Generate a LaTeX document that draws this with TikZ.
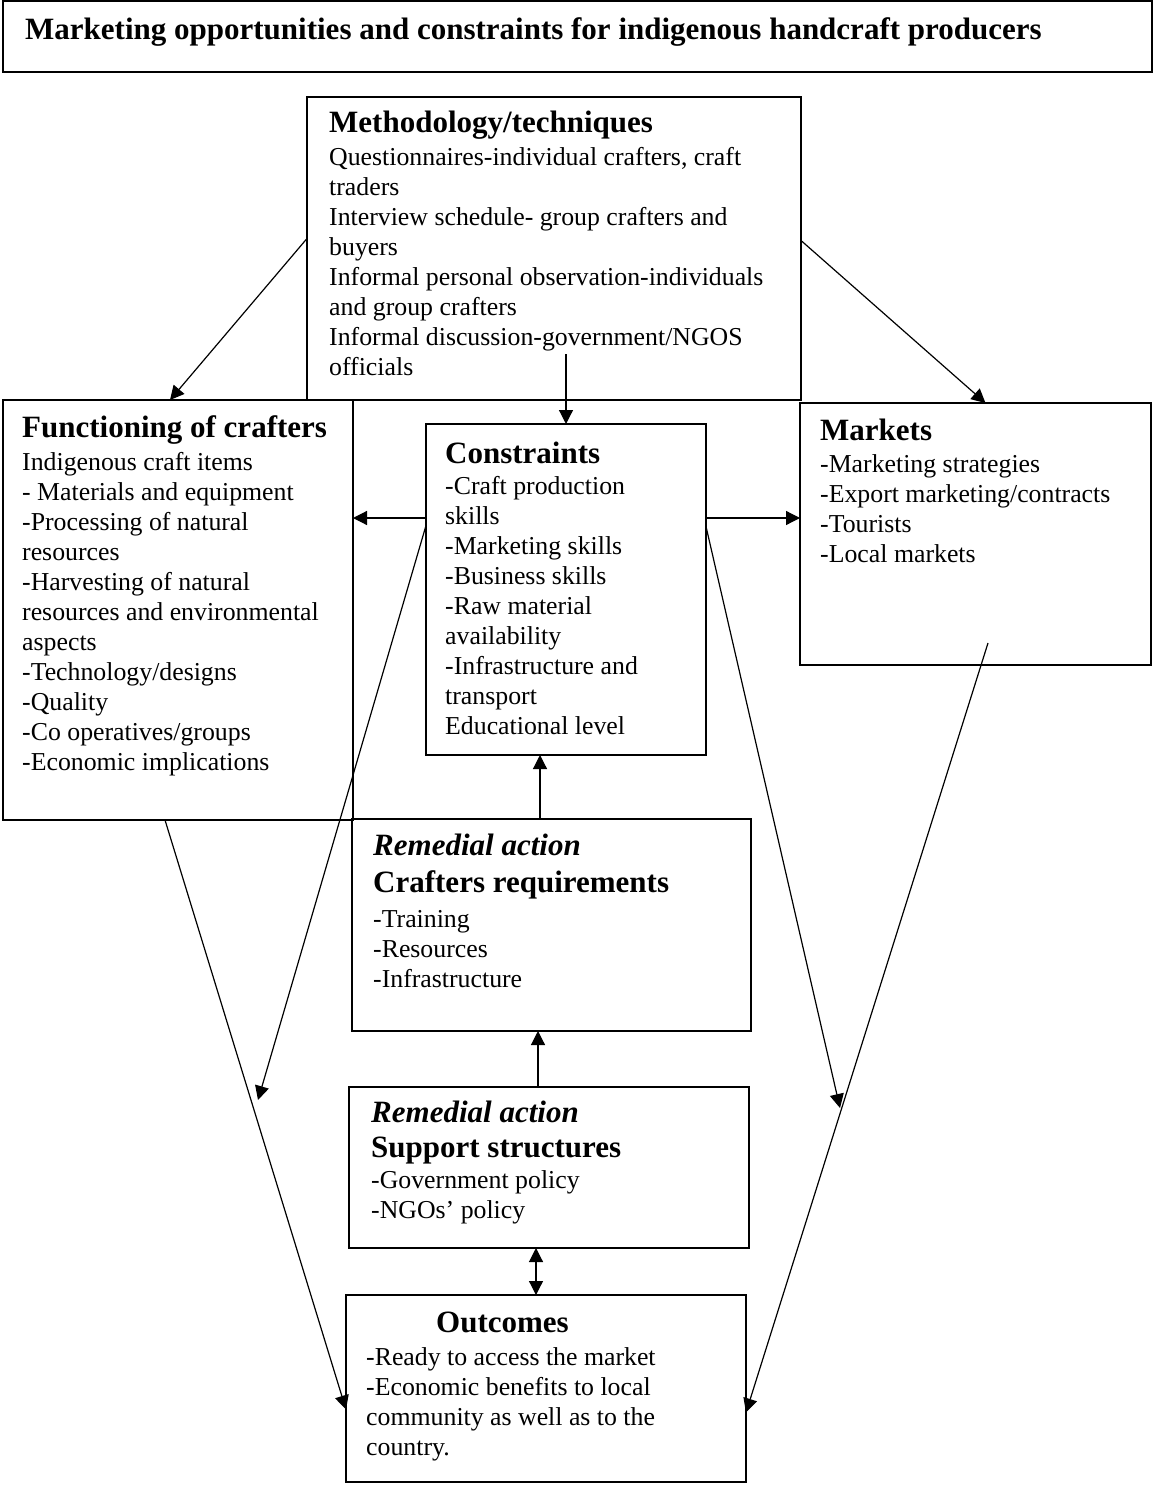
\documentclass[tikz,border=0pt]{standalone}
\usepackage{fontspec}
\setmainfont{Liberation Serif}
\usetikzlibrary{arrows.meta,calc}
\newcommand\ltxt[1]{\vtop{\baselineskip=30pt\lineskiplimit=-16000pt\lineskip=0pt\halign{##\hfil\cr#1\crcr}}}
\newcommand\hd[1]{{\fontsize{31}{31}\selectfont\bfseries #1}}
\newcommand\hi[1]{{\fontsize{31}{31}\selectfont\bfseries\itshape #1}}
\newcommand\gap[1]{\noalign{\vskip#1pt}}
\begin{document}
\begin{tikzpicture}[x=1pt,y=-1pt,
  box/.style={draw, line width=1.4pt, anchor=north west, inner sep=0pt, outer sep=0pt},
  txt/.style={anchor=base west, inner sep=0pt, font=\fontsize{25.8}{30}\selectfont},
  tip/.tip={Triangle[length=14pt,width=14pt]},
  arr/.style={line width=1.2pt, -tip},
  darr/.style={line width=1.2pt, tip-tip},
]
\useasboundingbox (0,0) rectangle (1153,1487);

% boxes
\node[box, minimum width=1149pt, minimum height=71pt] (title) at (3,1) {};
\node[box, minimum width=494pt, minimum height=303pt] (meth) at (307,97) {};
\node[box, minimum width=350pt, minimum height=420pt] (func) at (3,400) {};
\node[box, minimum width=280pt, minimum height=331pt] (cons) at (426,424) {};
\node[box, minimum width=351pt, minimum height=262pt] (mark) at (800,403) {};
\node[box, minimum width=399pt, minimum height=212pt] (creq) at (352,819) {};
\node[box, minimum width=400pt, minimum height=161pt] (supp) at (349,1087) {};
\node[box, minimum width=400pt, minimum height=187pt] (outc) at (346,1295) {};

% texts
\node[anchor=base west, inner sep=0pt, font=\fontsize{31}{31}\selectfont\bfseries] (titleT) at (25,40)
  {Marketing opportunities and constraints for indigenous handcraft producers};

\node[txt] (methT) at (329,133) {\ltxt{%
\hd{Methodology/techniques}\cr\gap{3}
Questionnaires-individual crafters, craft\cr
traders\cr
Interview schedule- group crafters and\cr
buyers\cr
Informal personal observation-individuals\cr
and group crafters\cr
Informal discussion-government/NGOS\cr
officials}};

\node[txt] (funcT) at (22,437) {\ltxt{%
\hd{Functioning of crafters}\cr\gap{3}
Indigenous craft items\cr
- Materials and equipment\cr
-Processing of natural\cr
resources\cr
-Harvesting of natural\cr
resources and environmental\cr
aspects\cr
-Technology/designs\cr
-Quality\cr
-Co operatives/groups\cr
-Economic implications}};

\node[txt] (consT) at (445,463) {\ltxt{%
\hd{Constraints}\cr\gap{1}
-Craft production\cr
skills\cr
-Marketing skills\cr
-Business skills\cr
-Raw material\cr
availability\cr
-Infrastructure and\cr
transport\cr
Educational level}};

\node[txt] (markT) at (820,440) {\ltxt{%
\hd{Markets}\cr\gap{2}
-Marketing strategies\cr
-Export marketing/contracts\cr
-Tourists\cr
-Local markets}};

\node[txt] (creqT) at (373,855) {\ltxt{%
\hi{Remedial action}\cr\gap{7}
\hd{Crafters requirements}\cr\gap{5}
-Training\cr
-Resources\cr
-Infrastructure}};

\node[txt] (suppT) at (371,1122) {\ltxt{%
\hi{Remedial action}\cr\gap{5}
\hd{Support structures}\cr\gap{1}
-Government policy\cr
-NGOs’ policy}};

\node[txt] (outcT) at (366,1332) {\ltxt{%
\hskip70pt\hd{Outcomes}\cr\gap{3}
-Ready to access the market\cr
-Economic benefits to local\cr
community as well as to the\cr
country.}};

% helper coordinates
\coordinate (m3) at (566,354);
\coordinate (hy) at (0,518);
\coordinate (lt) at (258,1100);
\coordinate (rt) at (840,1108);
\coordinate (mk) at (988,643);
\coordinate (vx) at (540,0);
\coordinate (vxb) at (538,0);
\coordinate (vxc) at (536,0);

% connectors
\draw[arr] ([yshift=10pt]meth.west) -- ([xshift=-8pt]func.north);
\draw[arr] ([yshift=8pt]meth.east) -- ([xshift=10pt]mark.north);
\draw[arr] (m3) -- (m3 |- cons.north);
\draw[arr] (cons.west |- hy) -- (func.east |- hy);
\draw[arr] (cons.east |- hy) -- (mark.west |- hy);
\draw[arr] ([yshift=64pt]cons.west) -- (lt);
\draw[arr] ([yshift=63pt]cons.east) -- (rt);
\draw[arr] ([xshift=-13pt]func.south) -- ([yshift=-21pt]outc.west);
\draw[arr] (mk) -- ([yshift=-24pt]outc.east);
\draw[arr] (creq.north -| vx) -- (cons.south -| vx);
\draw[arr] (supp.north -| vxb) -- (creq.south -| vxb);
\draw[darr] (supp.south -| vxc) -- (outc.north -| vxc);
\end{tikzpicture}
\end{document}
